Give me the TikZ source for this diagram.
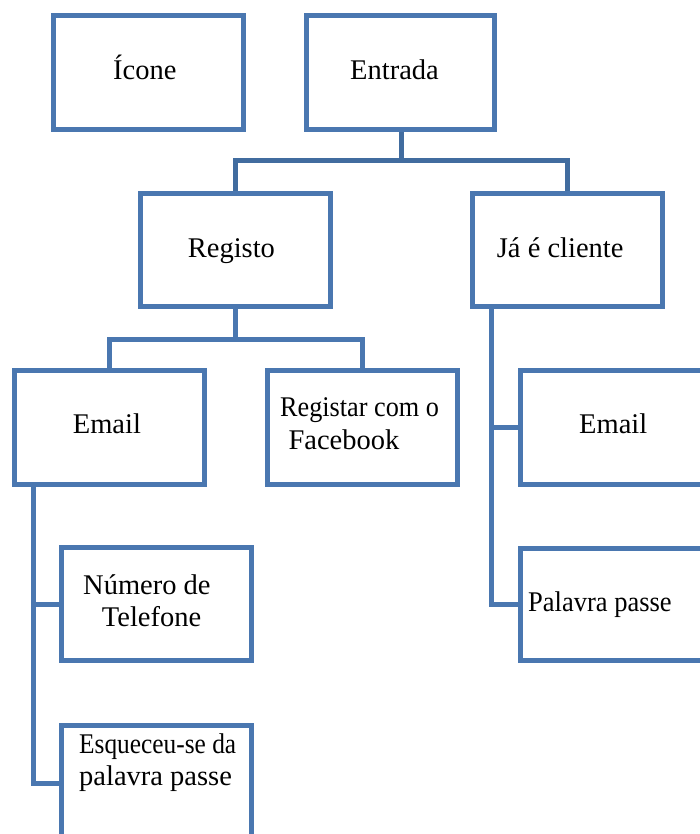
\documentclass[tikz,border=0pt]{standalone}
\usepackage{fontspec}
\setmainfont{Liberation Serif}
\newfontfamily\tnr{Liberation Serif}
\usepackage{graphicx}
\definecolor{boxblue}{HTML}{4A77B0}
\definecolor{connblue}{HTML}{416C9F}
\begin{document}
\begin{tikzpicture}[x=1pt,y=-1pt,
  box/.style={draw=boxblue,line width=5pt,fill=white,minimum width=190pt,minimum height=114pt,inner sep=0pt},
  conn/.style={draw=boxblue,line width=5pt,line join=miter},
  lbl/.style={anchor=base west,inner sep=0pt,font=\tnr\fontsize{28.5}{32}\selectfont,text=black}]
\useasboundingbox (0,0) rectangle (700,834);
\clip (0,0) rectangle (700,834);
% connectors
\coordinate (h1) at (0,161);
\coordinate (h2) at (0,339);
\coordinate (vL) at (33,0);
\coordinate (vR) at (491.5,0);
% boxes
\node[box] (icone) at (148.5,72.5) {};
\node[box,minimum width=188pt] (entrada) at (400.5,72.5) {};
\node[box,minimum height=113pt] (registo) at (235.5,250) {};
\node[box,minimum height=113pt] (cliente) at (567.8,250) {};
\node[box] (emailL) at (109,427.5) {};
\node[box] (facebook) at (362,427.5) {};
\node[box] (emailR) at (615,427.5) {};
\node[box,minimum height=113pt] (numero) at (156.5,604) {};
\node[box,minimum height=115pt] (esqueceu) at (156.5,783) {};
\node[box,minimum height=112pt] (palavra) at (615,604.5) {};
\draw[conn,draw=connblue] (entrada.south -| 401.5,0) -- (401.5,161);
\draw[conn,draw=connblue] (registo.north) -- (registo.north |- h1) -- (cliente.north |- h1) -- (cliente.north);
\draw[conn] (registo.south) -- (registo.south |- h2);
\draw[conn] (emailL.north) -- (emailL.north |- h2) -- (facebook.north |- h2) -- (facebook.north);
\draw[conn] (emailL.south -| vL) |- (numero.west);
\draw[conn] (emailL.south -| vL) |- (esqueceu.west);
\draw[conn] (cliente.south -| vR) |- (emailR.west);
\draw[conn] (cliente.south -| vR) |- (palavra.west);
% labels
\node[lbl] (t-icone) at (113,80) {Ícone};
\node[lbl] (t-entrada) at (350,80) {Entrada};
\node[lbl] (t-registo) at (187.7,257) {Registo};
\node[lbl] (t-cliente) at (496.7,257) {Já é cliente};
\node[lbl] (t-emailL) at (72.7,433) {Email};
\node[lbl] (t-reg1) at (280,416.7) {\scalebox{0.92}[1]{Registar com o}};
\node[lbl] (t-reg2) at (288.3,449) {Facebook};
\node[lbl] (t-emailR) at (579,433) {Email};
\node[lbl] (t-num1) at (83,594) {Número de};
\node[lbl] (t-num2) at (101.7,626) {Telefone};
\node[lbl] (t-esq1) at (79,753) {\scalebox{0.89}[1]{Esqueceu-se da}};
\node[lbl] (t-esq2) at (79,785) {palavra passe};
\node[lbl] (t-pal) at (528,611.7) {\scalebox{0.93}[1]{Palavra passe}};
\end{tikzpicture}
\end{document}
